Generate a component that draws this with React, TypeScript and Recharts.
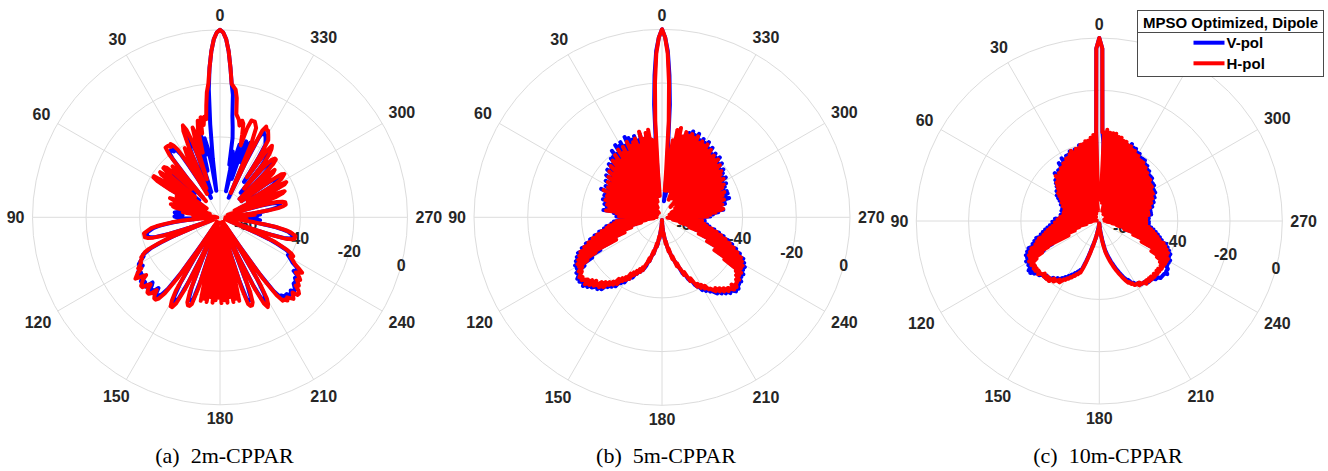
import React from 'react';
import { RadarChart, Radar, PolarGrid, PolarAngleAxis, PolarRadiusAxis, Legend } from 'recharts';

// angle in degrees, counter-clockwise from the top (0 = boresight), one sample per degree
const THETA = Array.from({ length: 360 }, (_, i) => i);
const THETA_TICKS = [0, 30, 60, 90, 120, 150, 180, 210, 240, 270, 300, 330];
const R_TICKS = [-60, -40, -20, 0];
const R_DOMAIN: [number, number] = [-70, 0];

// (a) 2m-CPPAR, normalized gain in dB
const A_V = [
  0, -1, -3.5, -8, -14, -22, -35, -48, -60, -50,
  -44, -40, -46, -39, -42, -52, -44, -40, -46, -60,
  -44, -38, -36, -38, -45, -62, -47, -43, -46, -58,
  -54, -48, -42, -40, -39, -40, -39, -39, -39, -42,
  -52, -60, -50, -46, -48, -57, -49, -45, -44, -44,
  -48, -60, -48, -44, -45, -52, -62, -50, -43, -43,
  -45, -51, -60, -58, -54, -57, -62, -59, -55, -52,
  -54, -62, -64, -59, -54, -53, -54, -54, -55, -58,
  -62, -58, -55, -54, -53, -54, -55, -56, -54, -53,
  -54, -55, -58, -62, -60, -57, -53, -50, -47, -45,
  -44, -43, -42, -42, -42, -42, -43, -45, -50, -58,
  -66, -58, -51, -46, -42, -40, -38, -38, -37, -36,
  -35, -35, -36, -34, -33, -34, -33, -34, -33, -32,
  -33, -33, -32, -32, -35, -34, -32, -33, -33, -35,
  -33, -32, -33, -34, -37, -45, -58, -66, -52, -41,
  -36, -34, -34, -36, -43, -55, -66, -54, -42, -38,
  -37, -37, -38, -45, -58, -66, -52, -44, -56, -48,
  -64, -50, -58, -52, -64, -55, -60, -52, -50, -50,
  -50, -50, -62, -55, -60, -52, -64, -54, -58, -50,
  -66, -52, -58, -50, -56, -66, -57, -45, -38, -37,
  -37, -38, -43, -55, -66, -55, -42, -36, -34, -35,
  -37, -43, -56, -66, -58, -44, -36, -33, -33, -32,
  -32, -32, -31, -31, -32, -31, -31, -32, -33, -33,
  -33, -34, -33, -34, -36, -35, -35, -36, -38, -39,
  -40, -41, -40, -41, -43, -46, -50, -57, -62, -66,
  -58, -51, -45, -43, -42, -42, -42, -43, -44, -46,
  -49, -54, -57, -60, -58, -56, -55, -57, -60, -58,
  -60, -58, -56, -58, -55, -58, -60, -56, -53, -50,
  -48, -47, -47, -47, -48, -50, -54, -60, -64, -56,
  -50, -47, -46, -50, -58, -62, -52, -45, -44, -49,
  -58, -48, -45, -44, -43, -44, -50, -60, -54, -49,
  -46, -45, -49, -60, -52, -44, -42, -42, -43, -47,
  -58, -46, -42, -40, -39, -42, -54, -44, -38, -37,
  -36, -35, -35, -34, -37, -48, -62, -44, -40, -42,
  -48, -40, -44, -55, -50, -42, -48, -60, -52, -45,
  -50, -40, -36, -32, -24, -20, -14, -8, -3.5, -1,
];
const A_H = [
  0, -1, -3.5, -8, -14, -20, -23, -28, -33, -32,
  -35, -32, -38, -33, -36, -45, -38, -35, -42, -55,
  -40, -35, -33, -35, -42, -58, -44, -41, -44, -60,
  -52, -46, -40, -38, -37, -38, -37, -37, -37, -40,
  -50, -62, -48, -44, -46, -55, -47, -43, -42, -42,
  -46, -58, -46, -42, -43, -50, -64, -48, -41, -41,
  -43, -49, -62, -56, -52, -55, -64, -58, -53, -50,
  -52, -60, -66, -57, -52, -51, -52, -52, -53, -58,
  -66, -60, -56, -58, -64, -68, -62, -60, -63, -68,
  -66, -62, -64, -69, -62, -56, -52, -49, -46, -44,
  -43, -42, -41, -41, -41, -41, -42, -44, -48, -56,
  -68, -60, -50, -45, -41, -39, -38, -37, -37, -36,
  -36, -35, -34, -35, -33, -32, -31, -33, -35, -33,
  -32, -31, -31, -33, -34, -32, -31, -31, -32, -34,
  -32, -31, -31, -32, -35, -42, -55, -68, -50, -38,
  -34, -32, -32, -34, -40, -52, -68, -52, -40, -36,
  -35, -35, -36, -42, -55, -68, -48, -38, -52, -39,
  -62, -38, -47, -40, -66, -38, -53, -39, -60, -40,
  -46, -38, -64, -39, -51, -38, -61, -40, -48, -38,
  -65, -39, -54, -38, -50, -68, -55, -42, -36, -35,
  -35, -36, -40, -52, -68, -52, -40, -34, -32, -33,
  -35, -41, -54, -68, -56, -42, -34, -31, -31, -30,
  -31, -30, -29, -30, -31, -29, -29, -30, -32, -31,
  -32, -33, -32, -33, -35, -34, -33, -35, -37, -38,
  -39, -40, -39, -40, -42, -45, -48, -55, -64, -68,
  -60, -50, -44, -42, -41, -41, -41, -42, -43, -45,
  -48, -53, -58, -62, -66, -62, -60, -64, -68, -66,
  -68, -64, -60, -63, -57, -62, -66, -58, -52, -48,
  -46, -45, -45, -45, -46, -48, -52, -60, -67, -55,
  -48, -45, -44, -48, -57, -64, -50, -43, -42, -47,
  -58, -46, -43, -42, -41, -42, -48, -60, -52, -47,
  -44, -43, -47, -60, -50, -42, -40, -40, -41, -45,
  -56, -44, -40, -38, -37, -40, -52, -42, -36, -35,
  -34, -33, -33, -32, -34, -45, -60, -40, -34, -33,
  -32, -32, -32, -35, -42, -38, -34, -33, -35, -33,
  -32, -31, -25, -22, -21, -20, -14, -8, -3.5, -1,
];

// (b) 5m-CPPAR
const B_V = [
  0, -3, -8, -17, -28, -45, -58, -44, -60, -40,
  -56, -39, -62, -41, -52, -38, -60, -40, -55, -38,
  -60, -39, -50, -38, -63, -37, -56, -40, -58, -38,
  -52, -39, -61, -38, -57, -41, -65, -39, -54, -41,
  -61, -41, -52, -43, -63, -42, -57, -44, -60, -43,
  -55, -46, -64, -44, -58, -47, -60, -45, -54, -48,
  -62, -46, -59, -48, -66, -45, -56, -49, -60, -47,
  -57, -50, -64, -47, -60, -51, -62, -48, -58, -49,
  -65, -50, -62, -48, -63, -52, -60, -53, -66, -53,
  -60, -55, -64, -54, -62, -52, -65, -51, -60, -49,
  -62, -48, -58, -46, -60, -44, -55, -42, -56, -40,
  -52, -38, -53, -36, -48, -35, -49, -34, -44, -33,
  -40, -33, -36, -32, -33, -32, -31, -32, -31, -32,
  -32, -31, -34, -32, -34, -33, -34, -35, -34, -36,
  -35, -38, -37, -39, -38, -41, -39, -42, -41, -43,
  -42, -45, -44, -46, -45, -47, -47, -48, -48, -49,
  -49, -50, -51, -53, -53, -55, -56, -56, -58, -59,
  -59, -60, -62, -62, -64, -65, -65, -67, -68, -69,
  -69, -68, -67, -66, -65, -64, -63, -62, -61, -60,
  -59, -58, -57, -56, -55, -54, -53, -52, -51, -50,
  -48, -47, -47, -45, -44, -44, -42, -41, -41, -39,
  -40, -38, -39, -37, -37, -36, -35, -36, -34, -35,
  -33, -34, -32, -33, -32, -31, -33, -31, -32, -32,
  -33, -32, -34, -33, -35, -33, -40, -34, -45, -34,
  -46, -35, -49, -36, -48, -38, -53, -40, -52, -42,
  -57, -44, -55, -46, -61, -48, -58, -50, -63, -52,
  -61, -53, -63, -55, -62, -54, -66, -56, -63, -54,
  -64, -52, -61, -51, -62, -49, -60, -47, -50, -58,
  -48, -62, -46, -58, -46, -60, -44, -55, -45, -64,
  -44, -59, -44, -60, -45, -54, -44, -63, -43, -57,
  -44, -58, -42, -52, -43, -62, -42, -56, -41, -57,
  -42, -50, -40, -61, -41, -55, -39, -57, -40, -50,
  -39, -62, -40, -54, -38, -58, -39, -51, -37, -55,
  -38, -60, -37, -53, -38, -57, -36, -49, -37, -60,
  -36, -55, -37, -58, -38, -50, -40, -56, -45, -55,
  -50, -62, -58, -64, -52, -45, -28, -17, -8, -3,
];
const B_H = [
  0, -3, -9, -20, -34, -52, -62, -41, -55, -37,
  -50, -38, -60, -40, -47, -37, -64, -42, -52, -39,
  -57, -40, -46, -41, -66, -39, -53, -43, -60, -40,
  -49, -42, -63, -40, -55, -44, -68, -41, -51, -43,
  -59, -42, -48, -45, -65, -43, -54, -46, -61, -44,
  -52, -47, -67, -45, -56, -48, -62, -46, -50, -49,
  -64, -47, -57, -49, -68, -46, -53, -50, -61, -48,
  -55, -51, -66, -48, -58, -52, -63, -49, -56, -50,
  -67, -51, -60, -49, -64, -53, -58, -55, -68, -54,
  -62, -56, -66, -55, -60, -53, -67, -52, -58, -50,
  -64, -49, -56, -47, -62, -45, -53, -43, -58, -41,
  -50, -39, -55, -37, -46, -36, -51, -35, -42, -34,
  -38, -34, -35, -33, -34, -33, -32, -33, -32, -33,
  -34, -32, -35, -33, -36, -34, -35, -37, -35, -38,
  -36, -39, -38, -40, -39, -42, -40, -43, -42, -44,
  -43, -46, -44, -47, -46, -48, -47, -49, -48, -50,
  -49, -51, -52, -54, -53, -55, -57, -56, -58, -60,
  -59, -61, -63, -62, -64, -66, -65, -67, -68, -69,
  -69, -68, -66, -67, -65, -63, -64, -62, -60, -61,
  -59, -57, -58, -56, -54, -55, -53, -51, -52, -50,
  -49, -47, -48, -46, -44, -45, -43, -41, -42, -40,
  -41, -39, -40, -38, -38, -37, -36, -37, -35, -36,
  -34, -35, -33, -34, -33, -32, -34, -32, -33, -33,
  -34, -33, -35, -34, -36, -34, -42, -35, -47, -35,
  -44, -36, -51, -37, -46, -39, -55, -41, -50, -43,
  -59, -45, -53, -47, -63, -49, -56, -51, -66, -53,
  -59, -54, -65, -56, -61, -55, -68, -57, -62, -55,
  -66, -53, -60, -52, -64, -50, -58, -48, -47, -60,
  -49, -65, -47, -56, -48, -62, -46, -53, -47, -67,
  -46, -57, -45, -61, -47, -52, -45, -66, -44, -55,
  -45, -60, -43, -50, -44, -64, -43, -54, -42, -59,
  -43, -48, -41, -63, -42, -53, -40, -58, -41, -47,
  -40, -65, -41, -52, -39, -60, -40, -49, -38, -56,
  -39, -62, -38, -51, -39, -58, -37, -46, -38, -63,
  -37, -53, -38, -60, -37, -48, -39, -58, -36, -52,
  -37, -60, -41, -54, -60, -52, -34, -20, -9, -3,
];

// (c) 10m-CPPAR
const C_V = [
  0, -4, -36, -50, -56, -48, -60, -40, -58, -41,
  -62, -40, -55, -41, -63, -40, -58, -42, -60, -41,
  -54, -42, -64, -41, -58, -42, -62, -42, -53, -43,
  -61, -42, -57, -44, -64, -43, -55, -45, -62, -45,
  -58, -46, -65, -45, -56, -47, -63, -47, -59, -48,
  -66, -49, -57, -50, -64, -50, -60, -51, -67, -51,
  -59, -52, -64, -53, -62, -54, -66, -54, -61, -55,
  -67, -55, -63, -56, -65, -55, -64, -56, -66, -56,
  -62, -55, -65, -56, -63, -55, -66, -53, -61, -54,
  -64, -52, -62, -53, -65, -51, -61, -50, -63, -49,
  -56, -48, -63, -47, -58, -45, -60, -44, -56, -43,
  -58, -41, -53, -40, -55, -39, -50, -39, -46, -38,
  -41, -39, -38, -39, -38, -37, -38, -37, -38, -38,
  -39, -39, -39, -40, -40, -40, -41, -40, -41, -41,
  -41, -42, -42, -42, -43, -43, -43, -44, -44, -45,
  -45, -46, -46, -47, -47, -48, -48, -49, -49, -50,
  -50, -52, -54, -56, -58, -60, -61, -62, -63, -64,
  -65, -66, -67, -67, -68, -68, -69, -69, -69, -69,
  -69, -69, -69, -68, -68, -67, -66, -65, -64, -62,
  -61, -59, -58, -57, -56, -55, -54, -53, -52, -51,
  -50, -49, -48, -47, -46, -45, -45, -44, -43, -43,
  -42, -42, -42, -41, -41, -41, -41, -41, -40, -40,
  -40, -40, -40, -40, -39, -39, -39, -38, -38, -38,
  -38, -38, -37, -38, -38, -38, -39, -39, -42, -39,
  -45, -39, -43, -40, -50, -40, -47, -41, -54, -42,
  -50, -43, -58, -45, -53, -46, -61, -47, -56, -48,
  -63, -49, -58, -50, -65, -51, -60, -51, -62, -51,
  -57, -52, -66, -51, -60, -51, -64, -50, -58, -50,
  -65, -50, -59, -50, -63, -49, -57, -49, -66, -48,
  -59, -48, -62, -47, -55, -47, -64, -46, -58, -46,
  -61, -46, -54, -45, -65, -45, -57, -45, -60, -44,
  -52, -44, -64, -44, -56, -43, -60, -43, -51, -42,
  -63, -42, -55, -41, -58, -41, -49, -41, -65, -40,
  -54, -40, -60, -39, -50, -39, -62, -38, -55, -39,
  -58, -39, -50, -39, -64, -40, -55, -45, -58, -50,
  -54, -56, -60, -52, -58, -55, -50, -40, -36, -4,
];
const C_H = [
  0, -4, -36, -62, -37, -55, -38, -66, -39, -52,
  -39, -60, -40, -48, -40, -64, -41, -53, -41, -58,
  -42, -50, -41, -67, -42, -55, -43, -61, -43, -49,
  -44, -65, -44, -54, -45, -60, -45, -51, -46, -68,
  -46, -56, -47, -62, -46, -52, -48, -66, -48, -57,
  -49, -63, -50, -54, -51, -68, -51, -58, -52, -64,
  -53, -57, -54, -67, -54, -60, -55, -65, -55, -59,
  -56, -68, -56, -61, -57, -66, -56, -62, -57, -69,
  -56, -63, -57, -67, -55, -61, -56, -68, -54, -62,
  -55, -66, -53, -60, -54, -67, -52, -59, -51, -64,
  -50, -58, -49, -65, -48, -56, -46, -62, -45, -54,
  -44, -60, -42, -51, -41, -57, -40, -48, -40, -45,
  -39, -42, -40, -39, -40, -40, -39, -40, -39, -40,
  -40, -39, -40, -40, -41, -40, -40, -41, -40, -41,
  -40, -41, -42, -41, -42, -42, -43, -42, -43, -44,
  -44, -45, -45, -46, -46, -47, -47, -48, -48, -49,
  -49, -51, -53, -55, -57, -59, -60, -62, -63, -64,
  -65, -66, -66, -67, -67, -68, -68, -69, -69, -69,
  -69, -69, -68, -68, -67, -66, -65, -64, -63, -61,
  -60, -58, -57, -56, -55, -54, -53, -52, -51, -50,
  -49, -48, -47, -46, -45, -44, -44, -43, -43, -42,
  -42, -42, -41, -42, -41, -41, -41, -40, -41, -41,
  -40, -41, -40, -41, -40, -40, -41, -40, -40, -41,
  -40, -41, -40, -40, -41, -40, -42, -40, -44, -40,
  -47, -40, -45, -41, -52, -41, -48, -42, -56, -43,
  -51, -44, -60, -46, -54, -47, -63, -48, -57, -49,
  -65, -50, -59, -51, -67, -52, -61, -52, -64, -52,
  -58, -53, -68, -52, -61, -52, -66, -51, -59, -51,
  -67, -51, -60, -51, -65, -50, -58, -50, -68, -49,
  -60, -49, -64, -48, -56, -48, -66, -47, -59, -47,
  -63, -47, -55, -46, -67, -46, -58, -46, -62, -45,
  -53, -45, -66, -45, -57, -44, -61, -44, -52, -43,
  -65, -43, -56, -42, -60, -42, -50, -42, -67, -41,
  -55, -41, -61, -40, -51, -40, -64, -39, -56, -39,
  -60, -38, -49, -38, -66, -37, -54, -37, -59, -36,
  -50, -36, -63, -36, -55, -35, -61, -36, -36, -4,
];

const SERIES_NAMES = ['V-pol', 'H-pol'];
const SERIES_COLORS = ['#0000ff', '#ff0000'];
const LEGEND_TITLE = 'MPSO Optimized, Dipole';

const TEXT = '#262626';
const GRID = '#dcdcdc';
const SANS = '"Liberation Sans", Arial, Helvetica, sans-serif';
const SERIF = '"Liberation Serif", "Times New Roman", serif';

const PANELS = [
  { id: 'a', caption: '(a)  2m-CPPAR', v: A_V, h: A_H, left: 0, width: 470, cx: 220, cy: 217.3, r: 187.5, capX: 224.5, legend: false },
  { id: 'b', caption: '(b)  5m-CPPAR', v: B_V, h: B_H, left: 440, width: 470, cx: 222, cy: 217.3, r: 188, capX: 226, legend: false },
  { id: 'c', caption: '(c)  10m-CPPAR', v: C_V, h: C_H, left: 880, width: 448, cx: 219.3, cy: 221, r: 183, capX: 228, legend: true },
];

const toRows = (v: number[], h: number[]) =>
  THETA.map((t, i) => ({ theta: t, v: v[i], h: h[i] }));

const makeAngleTick = (cx: number, cy: number, radius: number) => (props: any) => {
  const t = Number(props.payload?.value);
  if (!THETA_TICKS.includes(t)) return <g />;
  const rad = (t * Math.PI) / 180;
  const dx = -Math.sin(rad);
  const dy = -Math.cos(rad);
  const label = String(t);
  const dist = radius + 8 + label.length * 4.45 * Math.abs(dx) + 6 * Math.abs(dy);
  return (
    <text
      x={cx + dx * dist}
      y={cy + dy * dist}
      textAnchor="middle"
      dominantBaseline="central"
      fill={TEXT}
      fontFamily={SANS}
      fontWeight="bold"
      fontSize={16}
    >
      {label}
    </text>
  );
};

const RadiusTick = (props: any) => {
  const { x, y, payload } = props;
  return (
    <text
      x={x}
      y={y}
      textAnchor="middle"
      dominantBaseline="central"
      fill={TEXT}
      fontFamily={SANS}
      fontWeight="bold"
      fontSize={16}
    >
      {payload.value}
    </text>
  );
};

const LegendBox = (props: any) => {
  const items = [...(props.payload || [])].sort(
    (p: any, q: any) => SERIES_NAMES.indexOf(p.value) - SERIES_NAMES.indexOf(q.value)
  );
  return (
    <svg width={188} height={67} style={{ display: 'block' }}>
      <rect x={0.5} y={0.5} width={186} height={66} fill="#fff" stroke="#4a4a4a" />
      <text x={93.5} y={18} textAnchor="middle" fill="#000" fontFamily={SANS} fontWeight="bold" fontSize={15}>
        {LEGEND_TITLE}
      </text>
      <line x1={0.5} x2={186.5} y1={22.5} y2={22.5} stroke="#4a4a4a" />
      {items.map((it: any, i: number) => (
        <g key={it.value}>
          <line x1={56.5} x2={87.5} y1={32.7 + i * 20.6} y2={32.7 + i * 20.6} stroke={it.color || SERIES_COLORS[i]} strokeWidth={4} />
          <text x={89.5} y={37.9 + i * 20.6} fill="#000" fontFamily={SANS} fontWeight="bold" fontSize={15}>
            {it.value}
          </text>
        </g>
      ))}
    </svg>
  );
};

export default function App() {
  return (
    <div style={{ position: 'absolute', left: 0, top: 0, width: 1328, height: 471, background: '#fff', overflow: 'hidden' }}>
      {PANELS.map((p) => (
        <div key={p.id} style={{ position: 'absolute', left: p.left, top: 0, width: p.width, height: 471 }}>
          <RadarChart
            width={p.width}
            height={471}
            data={toRows(p.v, p.h)}
            cx={p.cx}
            cy={p.cy}
            outerRadius={p.r}
            startAngle={90}
            endAngle={450}
            margin={{ top: 0, right: 0, bottom: 0, left: 0 }}
          >
            <PolarGrid
              gridType="circle"
              stroke={GRID}
              strokeWidth={1}
              polarAngles={THETA_TICKS.map((t) => 90 + t)}
            />
            <PolarAngleAxis
              dataKey="theta"
              type="number"
              domain={[0, 360]}
              ticks={THETA_TICKS}
              axisLine={false}
              tickLine={false}
              tick={makeAngleTick(p.cx, p.cy, p.r)}
            />
            <PolarRadiusAxis
              type="number"
              angle={-15}
              domain={R_DOMAIN}
              ticks={R_TICKS}
              allowDataOverflow
              axisLine={false}
              tickLine={false}
              tick={<RadiusTick />}
              zIndex={-50}
            />
            <Radar
              name={SERIES_NAMES[0]}
              dataKey="v"
              stroke={SERIES_COLORS[0]}
              strokeWidth={4}
              strokeLinejoin="round"
              fill="none"
              fillOpacity={0}
              dot={false}
              isAnimationActive={false}
            />
            <Radar
              name={SERIES_NAMES[1]}
              dataKey="h"
              stroke={SERIES_COLORS[1]}
              strokeWidth={4}
              strokeLinejoin="round"
              fill="none"
              fillOpacity={0}
              dot={false}
              isAnimationActive={false}
            />
            {p.legend && (
              <Legend
                layout="vertical"
                align="right"
                verticalAlign="top"
                content={<LegendBox />}
                wrapperStyle={{ position: 'absolute', left: 257, top: 10, right: 'auto', bottom: 'auto', width: 188, height: 67 }}
              />
            )}
          </RadarChart>
        </div>
      ))}
      <svg width={1328} height={471} style={{ position: 'absolute', left: 0, top: 0, pointerEvents: 'none' }}>
        {PANELS.map((p) => (
          <text
            key={p.id}
            x={p.left + p.capX}
            y={463}
            textAnchor="middle"
            fill="#000"
            fontFamily={SERIF}
            fontSize={22}
            style={{ whiteSpace: 'pre' }}
          >
            {p.caption}
          </text>
        ))}
      </svg>
    </div>
  );
}
